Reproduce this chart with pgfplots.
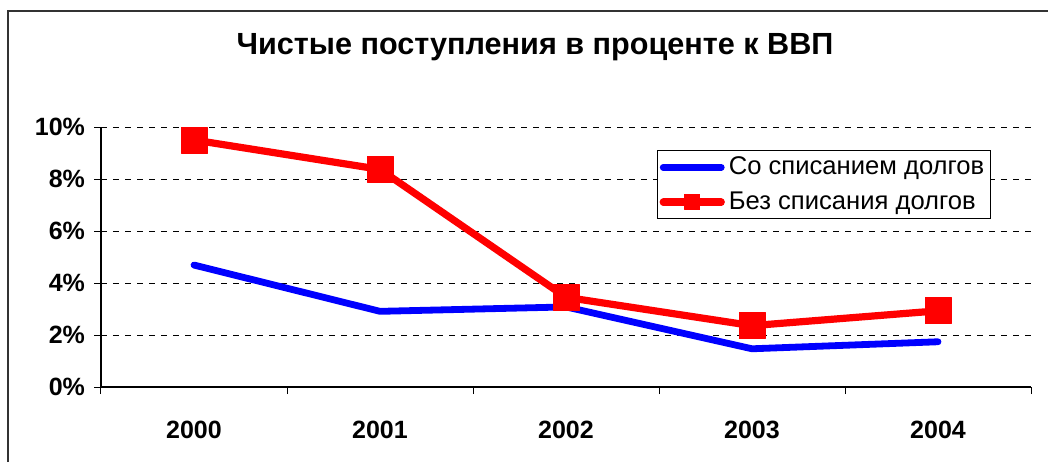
\documentclass[border=0pt]{standalone}
\usepackage{pgfplots}
\pgfplotsset{compat=1.18}
\usepackage{fontspec}
\setmainfont{Liberation Sans}
\begin{document}
\begin{tikzpicture}[x=0.5pt,y=0.5pt]
\path[use as bounding box] (0,0) rectangle (1048,462);
\draw[line width=1.2pt,black!80] (8,0) -- (8,451) -- (1048,451);
\node[font=\bfseries\fontsize{15.3}{17}\selectfont] at (535,415) {Чистые поступления в проценте к ВВП};
\begin{axis}[
  at={(50.5pt,37.5pt)}, anchor=south west,
  scale only axis, width=465pt, height=130pt,
  xmin=-0.5, xmax=4.5, ymin=0, ymax=10,
  axis x line*=bottom, axis y line*=left,
  axis line style={line width=0.6pt},
  xtick={-0.5,0.5,...,4.5},
  x tick label as interval,
  xticklabels={2000,2001,2002,2003,2004},
  ytick={0,2,...,10},
  yticklabel={\pgfmathprintnumber{\tick}\%},
  /pgf/number format/assume math mode=true,
  tick label style={font=\bfseries\fontsize{12.5}{14}\selectfont},
  xticklabel style={yshift=-10pt},
  yticklabel style={xshift=-1pt},
  tick align=outside, major tick length=3.5pt,
  tick style={black, line width=0.5pt},
  ymajorgrids, grid style={black, dashed, line width=0.5pt},
  legend style={at={(0.598,0.91)}, anchor=north west, draw=black, line width=0.5pt,
    font=\fontsize{12.8}{14}\selectfont, inner sep=1pt, row sep=3pt,
    cells={anchor=west}},
  legend image code/.code={
    \draw[#1, line cap=round] (0pt,0pt) -- (29pt,0pt);
    \path[#1, only marks, mark size=3.8pt] plot coordinates {(14.5pt,0pt)};
  },
  clip=false,
]
\addplot[blue, line width=3.4pt, line cap=round, line join=round] coordinates {(0,4.69) (1,2.91) (2,3.08) (3,1.47) (4,1.74)};
\addlegendentry{Со списанием долгов}
\addplot[red, line width=3.6pt, line join=round, mark=square*, mark size=6.5pt, mark options={line width=0.5pt}] coordinates {(0,9.5) (1,8.37) (2,3.45) (3,2.36) (4,2.93)};
\addlegendentry{Без списания долгов}
\end{axis}
\end{tikzpicture}
\end{document}
